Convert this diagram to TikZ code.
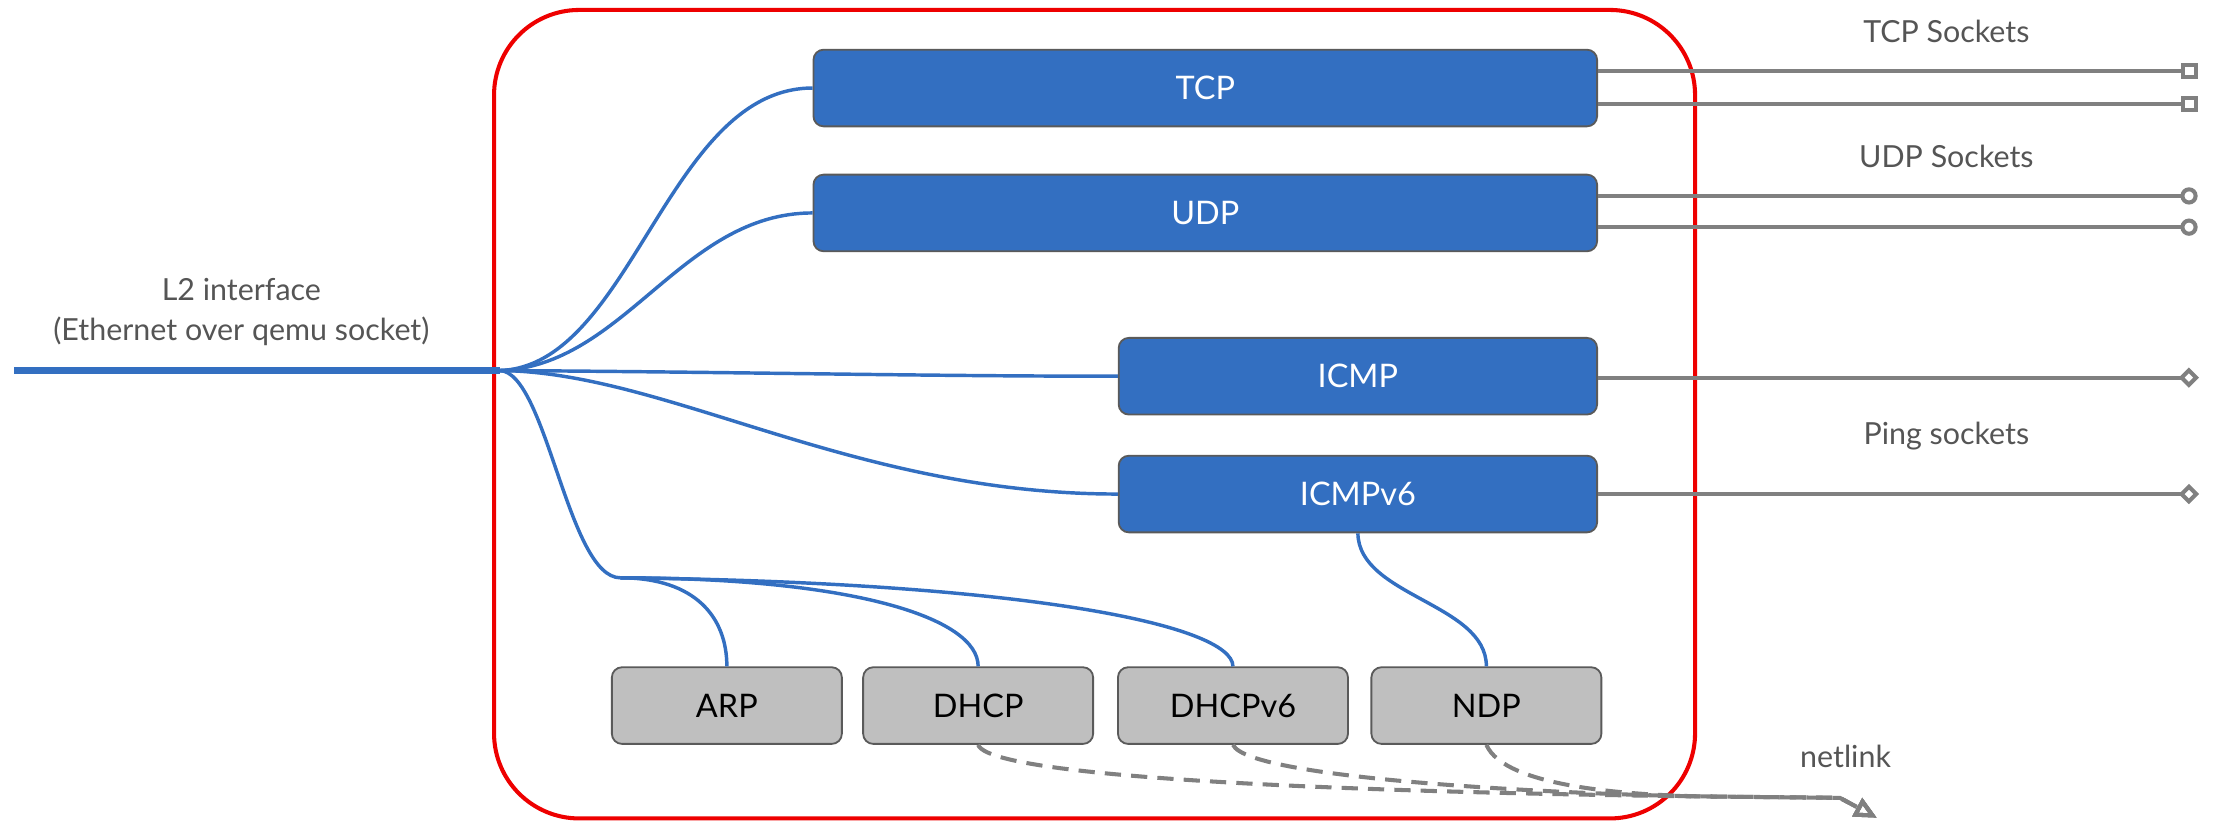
\documentclass[tikz,border=0pt]{standalone}
\usepackage{fontspec}
\setmainfont{Lato}
\usetikzlibrary{arrows.meta,calc}
\definecolor{stackblue}{HTML}{336FC1}
\definecolor{boxedge}{HTML}{5A5A5A}
\definecolor{protogray}{HTML}{BFBFBF}
\definecolor{sockgray}{HTML}{808080}
\definecolor{labelgray}{HTML}{555555}
\definecolor{stackred}{HTML}{EE0000}
\tikzset{
  bluebox/.style={draw=boxedge, line width=0.9pt, fill=stackblue, rounded corners=5pt,
    text=white, minimum height=37.8pt, inner sep=0pt, font=\fontsize{16}{19}\selectfont},
  graybox/.style={draw=boxedge, line width=0.9pt, fill=protogray, rounded corners=5pt,
    text=black, minimum width=113.4pt, minimum height=37.8pt, inner sep=0pt,
    font=\fontsize{16}{19}\selectfont},
  lbl/.style={text=labelgray, inner sep=0pt, align=center, font=\fontsize{15}{19.6}\selectfont},
  link/.style={draw=stackblue, line width=1.7pt},
  l2line/.style={draw=stackblue, line width=3.2pt},
  sockline/.style={draw=sockgray, line width=2pt},
  nlline/.style={draw=sockgray, line width=2pt, dash pattern=on 8pt off 5pt},
  sqtip/.style={-{Square[open, length=8pt, width=8pt]}},
  cirtip/.style={-{Circle[open, length=8.5pt, width=8.5pt]}},
  diatip/.style={-{Turned Square[open, length=10pt, width=10pt]}},
  nltip/.style={-{Triangle[open, length=11pt, width=10pt]}},
}
\begin{document}
\begin{tikzpicture}[x=0.7pt, y=-0.7pt]
\useasboundingbox (0,0) rectangle (1568,578);

% stack boundary
\draw[stackred, line width=2pt, rounded corners=42pt] (348,7) rectangle (1194,576.5);

% transport / ICMP boxes
\node[bluebox, minimum width=386.4pt] (tcp) at (849,62) {TCP};
\node[bluebox, minimum width=386.4pt] (udp) at (849,150) {UDP};
\node[bluebox, minimum width=235.9pt] (icmp) at (956.5,265) {ICMP};
\node[bluebox, minimum width=235.9pt] (icmpv6) at (956.5,348) {ICMPv6};

% link-layer helper protocols
\node[graybox] (arp) at (512,497) {ARP};
\node[graybox] (dhcp) at (689,497) {DHCP};
\node[graybox] (dhcpv6) at (868.5,497) {DHCPv6};
\node[graybox] (ndp) at (1047,497) {NDP};

% labels
\node[lbl] (l2lbl) at (170,220) {L2 interface\\(Ethernet over qemu socket)};
\node[lbl] (tcplbl) at (1371,22) {TCP Sockets};
\node[lbl] (udplbl) at (1371,110) {UDP Sockets};
\node[lbl] (pinglbl) at (1371,307) {Ping sockets};
\node[lbl] (nllbl) at (1300,533) {netlink};

% junction points
\coordinate (l2) at (10,261);
\coordinate (hub) at (352,261);
\coordinate (fan) at (437,407);
\coordinate (nl) at (1322,576);

% socket ends
\coordinate (s1) at (1548,50);
\coordinate (s2) at (1548,73);
\coordinate (s3) at (1548,138);
\coordinate (s4) at (1548,160);
\coordinate (s5) at (1549,266);
\coordinate (s6) at (1549,348);

% L2 interface
\draw[l2line] (l2) -- (hub);

% fan-out from the L2 interface
\draw[link] (hub) .. controls (445,258) and (470,62) .. (tcp.west);
\draw[link] (hub) .. controls (440,258) and (480,150) .. (udp.west);
\draw[link] (hub) .. controls (520,262) and (650,265) .. (icmp.west);
\draw[link] (hub) .. controls (470,262) and (600,348) .. (icmpv6.west);
\draw[link] (hub) .. controls (385,262) and (400,407) .. (fan);
\draw[link] (fan) .. controls (490,407) and (512,435) .. (arp.north);
\draw[link] (fan) .. controls (600,407) and (689,435) .. (dhcp.north);
\draw[link] (fan) .. controls (720,410) and (868,440) .. (dhcpv6.north);
\draw[link] (icmpv6.south) .. controls (957,420) and (1047,425) .. (ndp.north);

% sockets
\draw[sockline, sqtip] (s1 -| tcp.east) -- (s1);
\draw[sockline, sqtip] (s2 -| tcp.east) -- (s2);
\draw[sockline, cirtip] (s3 -| udp.east) -- (s3);
\draw[sockline, cirtip] (s4 -| udp.east) -- (s4);
\draw[sockline, diatip] (s5 -| icmp.east) -- (s5);
\draw[sockline, diatip] (s6 -| icmpv6.east) -- (s6);

% netlink
\draw[nlline, nltip] (dhcp.south) .. controls (700,555) and (1120,560) .. (1200,561) -- (1296,562) -- (nl);
\draw[nlline, nltip] (dhcpv6.south) .. controls (880,550) and (1120,560) .. (1200,561) -- (1296,562) -- (nl);
\draw[nlline, nltip] (ndp.south) .. controls (1060,555) and (1150,560) .. (1200,561) -- (1296,562) -- (nl);
\end{tikzpicture}
\end{document}
